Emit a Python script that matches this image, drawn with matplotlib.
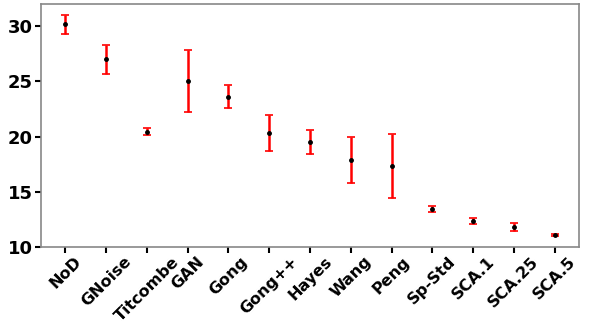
import numpy as np
import matplotlib.pyplot as plt

# Method names and scores (mean +/- error)
methods = ['NoD', 'GNoise', 'Titcombe', 'GAN', 'Gong', 'Gong++', 'Hayes',
           'Wang', 'Peng', 'Sp-Std', 'SCA.1', 'SCA.25', 'SCA.5']
means = [30.15, 27.0, 20.45, 25.0, 23.6, 20.3, 19.52, 17.85, 17.35, 13.42, 12.36, 11.81, 11.1]
errs = [0.88, 1.3, 0.29, 2.8, 1.05, 1.65, 1.07, 2.1, 2.88, 0.28, 0.27, 0.33, 0.1]

fig = plt.figure(figsize=(5.89, 3.27), dpi=100)
ax = fig.add_axes([0.0696, 0.2446, 0.9134, 0.7432])

x = np.arange(len(methods))
ax.errorbar(x, means, yerr=errs, fmt='o', color='black', markersize=2.5,
            ecolor='red', elinewidth=1.8, capsize=3, capthick=1.2)

ax.set_xlim(-0.6, len(methods) - 0.4)
ax.set_ylim(10, 32)
ax.set_yticks([10, 15, 20, 25, 30])
ax.set_xticks(x)
ax.set_xticklabels(methods, rotation=45, fontsize=11.5, fontweight='heavy')
for lbl in ax.get_yticklabels():
    lbl.set_fontsize(13)
    lbl.set_fontweight('heavy')
ax.tick_params(axis='both', width=1.5, length=4, pad=2)
ax.tick_params(axis='x', pad=1)
for s in ax.spines.values():
    s.set_color('#888888')
    s.set_linewidth(1.2)

plt.savefig('out.png', dpi=100)
plt.close(fig)
